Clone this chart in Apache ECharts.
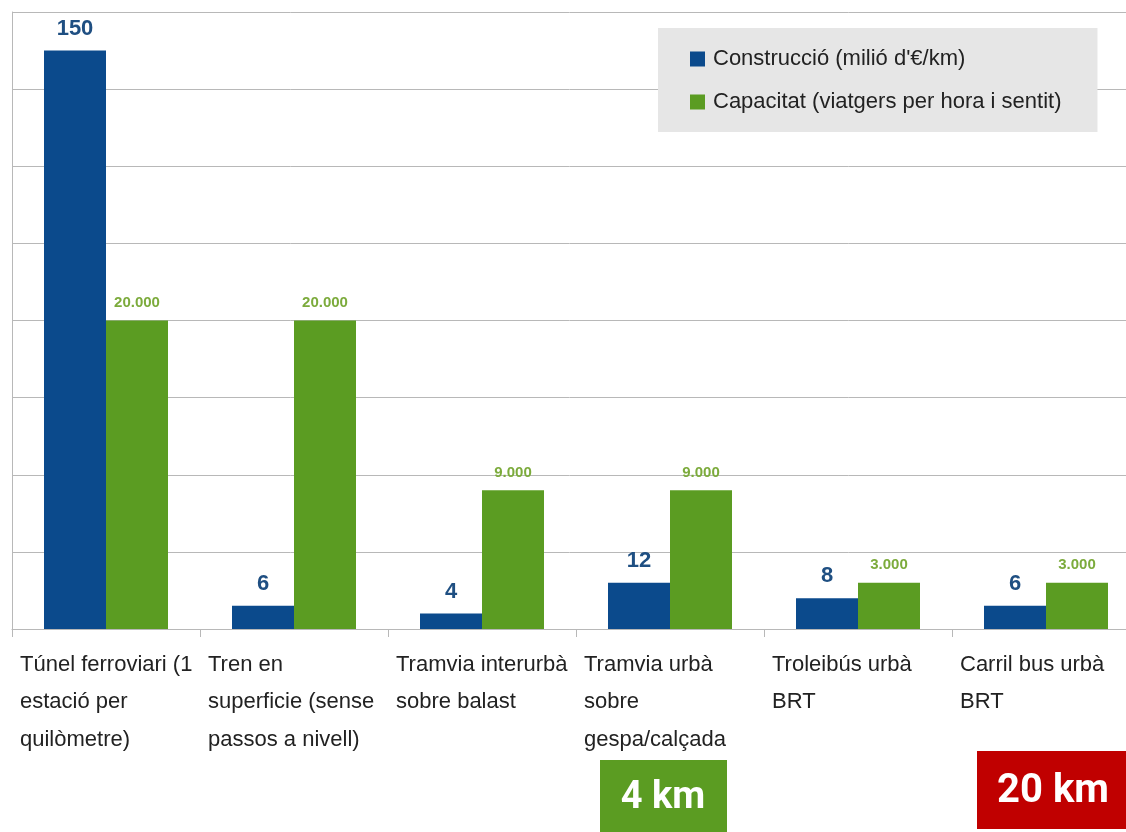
<!DOCTYPE html>
<html>
<head>
<meta charset="utf-8">
<script src="https://cdn.jsdelivr.net/npm/echarts@6/dist/echarts.min.js"></script>
<style>
  html, body { margin: 0; padding: 0; background: #fff; }
  #chart { width: 1126px; height: 832px; }
</style>
</head>
<body>
<div id="chart"></div>
<script>
// categories (line breaks as in the picture)
var categories = [
  "Túnel ferroviari (1\nestació per\nquilòmetre)",
  "Tren en\nsuperficie (sense\npassos a nivell)",
  "Tramvia interurbà\nsobre balast",
  "Tramvia urbà\nsobre\ngespa/calçada",
  "Troleibús urbà\nBRT",
  "Carril bus urbà\nBRT"
];
var seriesNames = ["Construcció (milió d'€/km)", "Capacitat (viatgers per hora i sentit)"];
var construccio = [150, 6, 4, 12, 8, 6];
var capacitat = [20000, 20000, 9000, 9000, 3000, 3000];

var blue = "#0b4a8c";
var green = "#5b9c22";
var gridColor = "#b8b8b8";

const fmtDots = (v) => String(v).replace(/\B(?=(\d{3})+(?!\d))/g, ".");

var chart = echarts.init(document.getElementById("chart"));

var option = {
  backgroundColor: "#ffffff",
  animation: false,
  textStyle: { fontFamily: "Liberation Sans, Arial, sans-serif" },
  grid: { left: 12, top: 12, bottom: 203, width: 1128, outerBoundsMode: "none", containLabel: false },
  legend: {
    data: seriesNames,
    orient: "vertical",
    left: 658,
    top: 28,
    backgroundColor: "#e6e6e6",
    padding: [20, 36, 19, 32],
    itemGap: 21,
    itemWidth: 15,
    itemHeight: 15,
    icon: "rect",
    textStyle: { fontSize: 22, color: "#222", padding: [0, 0, 0, 3] }
  },
  xAxis: [
    {
      type: "category",
      data: categories,
      axisLine: { lineStyle: { color: gridColor } },
      axisTick: { show: true, length: 8, lineStyle: { color: gridColor } },
      axisLabel: { show: false }
    },
    {
      // label-only axis so the text sits left-aligned from each category edge
      type: "category",
      boundaryGap: false,
      position: "bottom",
      data: categories.concat([""]),
      axisLine: { show: false },
      axisTick: { show: false },
      axisLabel: {
        interval: 0,
        align: "left",
        verticalAlign: "top",
        margin: 17,
        padding: [0, 0, 0, 8],
        fontSize: 22,
        lineHeight: 37.5,
        color: "#222"
      }
    }
  ],
  yAxis: [
    {
      type: "value",
      min: 0,
      max: 160,
      interval: 20,
      axisLine: { show: true, lineStyle: { color: gridColor } },
      axisTick: { show: false },
      axisLabel: { show: false },
      splitLine: { lineStyle: { color: gridColor, width: 1 } }
    },
    {
      type: "value",
      min: 0,
      max: 40000,
      interval: 5000,
      show: false,
      splitLine: { show: false }
    }
  ],
  series: [
    {
      name: seriesNames[0],
      type: "bar",
      data: construccio,
      barWidth: 62,
      barGap: "0%",
      itemStyle: { color: blue },
      label: {
        show: true,
        position: "top",
        distance: 11,
        fontSize: 22,
        fontWeight: "bold",
        color: "#1f4f82"
      }
    },
    {
      name: seriesNames[1],
      type: "bar",
      yAxisIndex: 1,
      data: capacitat,
      barWidth: 62,
      barGap: "0%",
      itemStyle: { color: green },
      label: {
        show: true,
        position: "top",
        distance: 10,
        fontSize: 15,
        fontWeight: "bold",
        color: "#7cab3c",
        formatter: (p) => fmtDots(p.value)
      }
    }
  ],
  graphic: [
    {
      type: "group",
      left: 600,
      top: 760,
      children: [
        { type: "rect", shape: { x: 0, y: 0, width: 127, height: 72 }, style: { fill: green } },
        {
          type: "text",
          x: 63,
          y: 38,
          style: {
            text: "4 km",
            fill: "#fff",
            font: "bold 38px Roboto, sans-serif",
            align: "center",
            verticalAlign: "middle"
          }
        }
      ]
    },
    {
      type: "group",
      left: 977,
      top: 751,
      children: [
        { type: "rect", shape: { x: 0, y: 0, width: 149, height: 78 }, style: { fill: "#c00000" } },
        {
          type: "text",
          x: 76,
          y: 41,
          style: {
            text: "20 km",
            fill: "#fff",
            font: "bold 40px Roboto, sans-serif",
            align: "center",
            verticalAlign: "middle"
          }
        }
      ]
    }
  ]
};

chart.setOption(option);
</script>
</body>
</html>
